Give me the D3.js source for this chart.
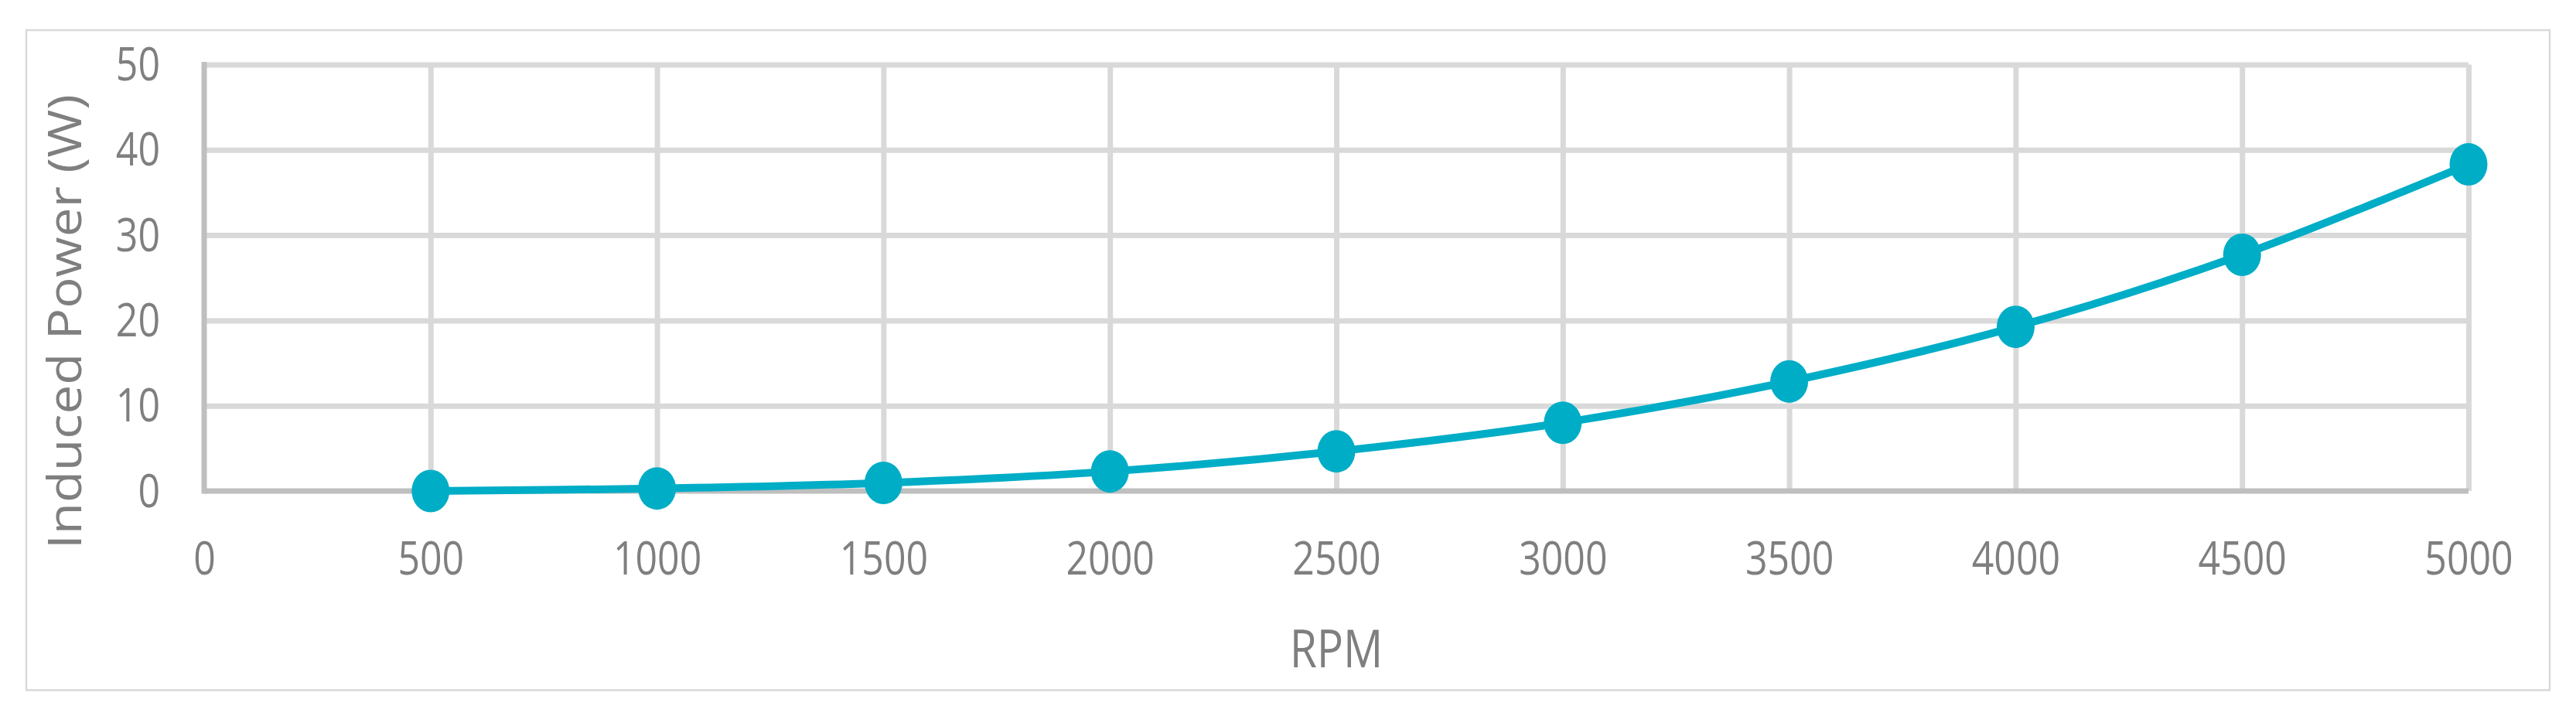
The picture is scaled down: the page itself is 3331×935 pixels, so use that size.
<!DOCTYPE html>
<html>
<head>
<meta charset="utf-8">
<script src="https://cdn.jsdelivr.net/npm/d3@7"></script>
<style>
  body { margin: 0; background: #fff; }
  svg text { font-family: "Open Sans", "Liberation Sans", sans-serif; fill: #7f7f7f; }
</style>
</head>
<body>
<svg id="chart"></svg>
<script>
// data
var rpm = [500, 1000, 1500, 2000, 2500, 3000, 3500, 4000, 4500, 5000],
power = [0, 0.3, 0.95, 2.3, 4.65, 8.0, 12.85, 19.25, 27.7, 38.3],
xTicks = [0, 500, 1000, 1500, 2000, 2500, 3000, 3500, 4000, 4500, 5000],
yTicks = [0, 10, 20, 30, 40, 50],
xTitle = "RPM",
yTitle = "Induced Power (W)";

var width = 3331, height = 935,
plotLeft = 264, plotRight = 3192, plotTop = 83.5, plotBottom = 635,
stretch = 1.19,
linecolor = "#00adc6",
gridcolor = "#d9d9d9",
axiscolor = "#bfbfbf";

var svg = d3.select("#chart")
.attr("width", width)
.attr("height", height);

svg.append("rect")
.attr("width", width)
.attr("height", height)
.style("fill", "#fff");

// outer chart border
svg.append("rect")
.attr("x", 34)
.attr("y", 39)
.attr("width", 3297 - 34)
.attr("height", 892.5 - 39)
.style("fill", "none")
.style("stroke", gridcolor)
.style("stroke-width", 2.5);

var x = d3.scaleLinear().domain([0, 5000]).range([plotLeft, plotRight]);
var y = d3.scaleLinear().domain([0, 50]).range([plotBottom, plotTop]);

//gridlines
svg.append("g")
.attr("class", "grid-x")
.attr("transform", "translate(0," + plotBottom + ")")
.call(d3.axisBottom(x).tickValues(xTicks.slice(1)).tickSize(-(plotBottom - plotTop)).tickFormat(""))
.call(function (g) { g.select(".domain").remove(); })
.selectAll("line")
.style("stroke", gridcolor)
.style("stroke-width", 7);

svg.append("g")
.attr("class", "grid-y")
.attr("transform", "translate(" + plotLeft + ",0)")
.call(d3.axisLeft(y).tickValues(yTicks.slice(1)).tickSize(-(plotRight - plotLeft)).tickFormat(""))
.call(function (g) { g.select(".domain").remove(); })
.selectAll("line")
.style("stroke", gridcolor)
.style("stroke-width", 7);

// axis lines
svg.append("line")
.attr("x1", plotLeft).attr("x2", plotRight)
.attr("y1", y(0)).attr("y2", y(0))
.style("stroke", axiscolor)
.style("stroke-width", 7);

svg.append("line")
.attr("x1", x(0)).attr("x2", x(0))
.attr("y1", plotTop - 3.5).attr("y2", plotBottom + 3.5)
.style("stroke", axiscolor)
.style("stroke-width", 7);

// tick labels
var xAxis = svg.append("g")
.attr("transform", "translate(0," + plotBottom + ")")
.call(d3.axisBottom(x).tickValues(xTicks).tickSize(0).tickFormat(d3.format("d")));
xAxis.select(".domain").remove();
xAxis.selectAll("text")
.attr("y", null)
.attr("dy", null)
.attr("fill", null)
.attr("font-size", 50)
.attr("text-anchor", "middle")
.attr("transform", "translate(0,108) scale(1," + stretch + ")");

var yAxis = svg.append("g")
.attr("transform", "translate(" + plotLeft + ",0)")
.call(d3.axisLeft(y).tickValues(yTicks).tickSize(0).tickFormat(d3.format("d")));
yAxis.select(".domain").remove();
yAxis.selectAll("text")
.attr("x", null)
.attr("dy", null)
.attr("fill", null)
.attr("font-size", 50)
.attr("text-anchor", "end")
.attr("transform", "translate(-57,20) scale(1," + stretch + ")");

// axis titles
svg.append("text")
.attr("transform", "translate(" + (plotLeft + plotRight) / 2 + ",863) scale(1,1.2)")
.attr("text-anchor", "middle")
.attr("font-size", 57)
.text(xTitle);

svg.append("text")
.attr("transform", "translate(105,416) rotate(-90) scale(1.12,1)")
.attr("text-anchor", "middle")
.attr("font-size", 60)
.text(yTitle);

// series
var pts = rpm.map(function (d, i) { return [d, power[i]]; });

var line = d3.line()
.x(function (d) { return x(d[0]); })
.y(function (d) { return y(d[1]); })
.curve(d3.curveCatmullRom.alpha(0.5));

svg.append("path")
.datum(pts)
.attr("d", line)
.style("fill", "none")
.style("stroke", linecolor)
.style("stroke-width", 10);

svg.selectAll("ellipse.marker")
.data(pts)
.enter().append("ellipse")
.attr("class", "marker")
.attr("cx", function (d) { return x(d[0]); })
.attr("cy", function (d) { return y(d[1]); })
.attr("rx", 24.5)
.attr("ry", 27.5)
.style("fill", linecolor);
</script>
</body>
</html>
